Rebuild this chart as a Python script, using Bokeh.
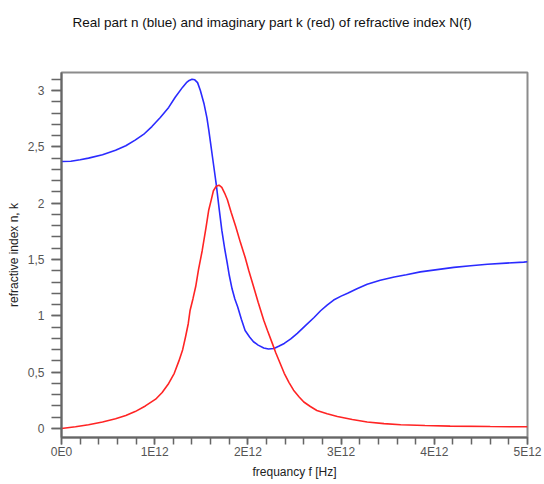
from bokeh.plotting import figure
from bokeh.models import Range1d, FixedTicker, Title
from bokeh.embed import file_html
from bokeh.resources import INLINE

# frequency samples (units of 1E12 Hz) and real part n (blue)
f_n_thz = [0.0, 0.10, 0.20, 0.29, 0.44, 0.58, 0.69, 0.79, 0.88, 0.97, 1.06, 1.15, 1.22,
           1.30, 1.34, 1.37, 1.40, 1.43, 1.46, 1.49, 1.53, 1.56, 1.58, 1.60, 1.62, 1.64,
           1.66, 1.69, 1.72, 1.75, 1.78, 1.80, 1.83, 1.86, 1.89, 1.93, 1.97, 2.02, 2.06,
           2.11, 2.17, 2.22, 2.28, 2.33, 2.39, 2.46, 2.53, 2.62, 2.71, 2.78, 2.85, 2.92,
           3.00, 3.07, 3.17, 3.28, 3.42, 3.57, 3.70, 3.85, 4.03, 4.21, 4.39, 4.57, 4.77,
           4.96, 5.00]
n_vals = [2.370, 2.372, 2.385, 2.400, 2.430, 2.470, 2.510, 2.560, 2.610, 2.680, 2.760, 2.850, 2.940,
          3.030, 3.070, 3.090, 3.100, 3.095, 3.070, 3.000, 2.880, 2.760, 2.650, 2.530, 2.410, 2.290,
          2.170, 1.960, 1.760, 1.600, 1.460, 1.360, 1.240, 1.150, 1.080, 0.970, 0.870, 0.810, 0.770,
          0.740, 0.715, 0.705, 0.710, 0.730, 0.755, 0.795, 0.845, 0.915, 0.985, 1.045, 1.095, 1.140,
          1.175, 1.200, 1.240, 1.280, 1.315, 1.345, 1.365, 1.390, 1.410, 1.430, 1.445, 1.458, 1.468,
          1.477, 1.480]

# frequency samples (units of 1E12 Hz) and imaginary part k (red)
f_k_thz = [0.0, 0.15, 0.29, 0.44, 0.58, 0.69, 0.79, 0.90, 1.01, 1.08, 1.15, 1.21, 1.26, 1.30,
           1.33, 1.36, 1.38, 1.41, 1.44, 1.47, 1.51, 1.55, 1.58, 1.61, 1.63, 1.66, 1.69, 1.72,
           1.75, 1.78, 1.82, 1.87, 1.92, 1.97, 2.01, 2.05, 2.11, 2.17, 2.21, 2.26, 2.30, 2.35,
           2.39, 2.44, 2.49, 2.55, 2.60, 2.67, 2.74, 2.85, 2.96, 3.12, 3.28, 3.46, 3.64, 3.90,
           4.17, 4.60, 5.00]
k_vals = [0.000, 0.015, 0.033, 0.057, 0.086, 0.115, 0.150, 0.200, 0.260, 0.320, 0.400, 0.490, 0.600, 0.700,
          0.810, 0.930, 1.050, 1.150, 1.260, 1.410, 1.580, 1.780, 1.940, 2.040, 2.110, 2.150, 2.160, 2.140,
          2.090, 2.030, 1.920, 1.790, 1.650, 1.520, 1.400, 1.290, 1.120, 0.960, 0.870, 0.760, 0.670, 0.570,
          0.490, 0.410, 0.340, 0.280, 0.235, 0.195, 0.160, 0.130, 0.107, 0.080, 0.058, 0.043, 0.033, 0.026,
          0.021, 0.017, 0.015]

x_ticks = [0.0, 1e12, 2e12, 3e12, 4e12, 5e12]
x_tick_labels = ["0E0", "1E12", "2E12", "3E12", "4E12", "5E12"]
y_ticks = [0.0, 0.5, 1.0, 1.5, 2.0, 2.5, 3.0]
y_tick_labels = ["0", "0,5", "1", "1,5", "2", "2,5", "3"]
title_text = "Real part n (blue) and imaginary part k (red) of refractive index N(f)"

f_n = [v * 1e12 for v in f_n_thz]
f_k = [v * 1e12 for v in f_k_thz]

FONT = "Liberation Sans"

p = figure(width=544, height=484, output_backend="svg", toolbar_location=None,
           x_range=Range1d(0, 5e12), y_range=Range1d(-0.08, 3.16),
           min_border_left=61, min_border_right=17, min_border_top=72, min_border_bottom=47)

p.title.visible = False
# spacer between frame and title (closest to the frame)
p.add_layout(Title(text=" ", standoff=20, text_font=FONT, text_font_size="12px"), "above")
p.add_layout(Title(text=title_text, align="left", offset=11, standoff=14,
                   text_font=FONT, text_font_size="13.5px", text_font_style="normal",
                   text_color="#111111"), "above")

p.line(f_n, n_vals, line_color="#2b2bff", line_width=1.6)
p.line(f_k, k_vals, line_color="#ff2424", line_width=1.6)

p.xgrid.visible = False
p.ygrid.visible = False
p.outline_line_color = "#8c8c8c"
p.outline_line_width = 2

minor_x = [i * 0.2e12 for i in range(26)]
minor_y = [i * 0.1 for i in range(-1, 32)]

xa = p.xaxis[0]
xa.ticker = FixedTicker(ticks=x_ticks, minor_ticks=minor_x)
xa.major_label_overrides = {t: l for t, l in zip(x_ticks, x_tick_labels)}
xa.axis_label = "frequancy f [Hz]"

ya = p.yaxis[0]
ya.ticker = FixedTicker(ticks=y_ticks, minor_ticks=minor_y)
ya.major_label_overrides = {t: l for t, l in zip(y_ticks, y_tick_labels)}
ya.axis_label = "refractive index n, k"

for ax in (xa, ya):
    ax.axis_line_color = "#666666"
    ax.axis_line_width = 2
    ax.major_tick_line_color = "#666666"
    ax.minor_tick_line_color = "#666666"
    ax.major_tick_line_width = 1.5
    ax.minor_tick_line_width = 1.5
    ax.major_tick_in = 0
    ax.minor_tick_in = 0
    ax.major_label_text_font = FONT
    ax.major_label_text_font_size = "12px"
    ax.major_label_text_color = "#555555"
    ax.axis_label_text_font = FONT
    ax.axis_label_text_font_size = "12px"
    ax.axis_label_text_font_style = "normal"
    ax.axis_label_text_color = "#222222"

xa.major_tick_out = 7
xa.minor_tick_out = 7
xa.major_label_standoff = 0
xa.axis_label_standoff = 3
ya.major_tick_out = 10
ya.minor_tick_out = 10
ya.major_label_standoff = 7
ya.axis_label_standoff = 4

open("out.html", "w").write(file_html(p, INLINE))
